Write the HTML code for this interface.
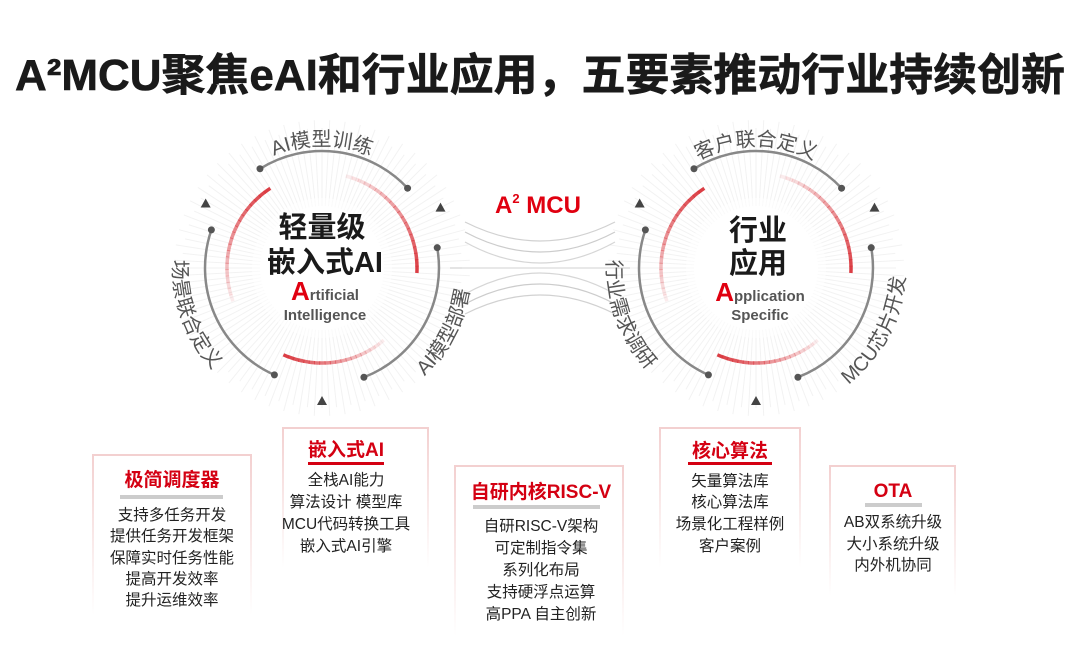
<!DOCTYPE html>
<html><head><meta charset="utf-8">
<style>
html,body{margin:0;padding:0;background:#fff;}
svg{display:block;}
text{font-family:"Liberation Sans","Noto Sans CJK SC",sans-serif;}
</style></head>
<body>
<svg id="s" width="1080" height="667" viewBox="0 0 1080 667" xmlns="http://www.w3.org/2000/svg">
<defs>
<linearGradient id="boxg" x1="0" y1="0" x2="0" y2="1">
<stop offset="0" stop-color="#f3d0d0"/><stop offset="1" stop-color="#fff"/>
</linearGradient>
</defs>
<g id="ticks"></g>
<g id="mid" fill="none" stroke="#999" stroke-width="1.2"></g>
<g id="arcs"></g>

<text x="540" y="90" text-anchor="middle" font-size="44" font-weight="bold" fill="#1a1a1a" stroke="#1a1a1a" stroke-width="0.6" textLength="1050" lengthAdjust="spacingAndGlyphs">A²MCU聚焦eAI和行业应用，五要素推动行业持续创新</text>

<text x="538" y="213" text-anchor="middle" font-size="24" font-weight="bold" fill="#e00010">A<tspan font-size="13" dy="-10">2</tspan><tspan dy="10"> MCU</tspan></text>

<text x="322" y="237" text-anchor="middle" font-size="29" font-weight="bold" fill="#1a1a1a">轻量级</text>
<text x="325" y="272" text-anchor="middle" font-size="29" font-weight="bold" fill="#1a1a1a">嵌入式AI</text>
<text x="325" y="300" text-anchor="middle" font-size="15" font-weight="bold" fill="#555"><tspan font-size="26" fill="#e00010">A</tspan>rtificial</text>
<text x="325" y="320" text-anchor="middle" font-size="15" font-weight="bold" fill="#555">Intelligence</text>
<text x="758" y="240" text-anchor="middle" font-size="29" font-weight="bold" fill="#1a1a1a">行业</text>
<text x="758" y="273" text-anchor="middle" font-size="29" font-weight="bold" fill="#1a1a1a">应用</text>
<text x="760" y="301" text-anchor="middle" font-size="15" font-weight="bold" fill="#555"><tspan font-size="26" fill="#e00010">A</tspan>pplication</text>
<text x="760" y="320" text-anchor="middle" font-size="15" font-weight="bold" fill="#555">Specific</text>

<g id="labels" font-size="20" fill="#555"></g>

<g font-size="15.5" fill="#222" text-anchor="middle">
<rect x="93" y="455" width="158" height="160" fill="none" stroke="url(#boxg)" stroke-width="2"/>
<text x="172" y="486" font-size="19" font-weight="bold" fill="#d40012">极简调度器</text>
<rect x="120" y="495" width="103" height="4" fill="#ccc"/>
<text x="172" y="520">支持多任务开发</text>
<text x="172" y="541">提供任务开发框架</text>
<text x="172" y="563">保障实时任务性能</text>
<text x="172" y="584">提高开发效率</text>
<text x="172" y="605">提升运维效率</text>

<rect x="283" y="428" width="145" height="140" fill="none" stroke="url(#boxg)" stroke-width="2"/>
<text x="346" y="456" font-size="19" font-weight="bold" fill="#d40012">嵌入式AI</text>
<rect x="308" y="462" width="76" height="3" fill="#d40012"/>
<text x="346" y="485">全栈AI能力</text>
<text x="346" y="507">算法设计  模型库</text>
<text x="346" y="529">MCU代码转换工具</text>
<text x="346" y="551">嵌入式AI引擎</text>

<rect x="455" y="466" width="168" height="170" fill="none" stroke="url(#boxg)" stroke-width="2"/>
<text x="541" y="498" font-size="19" font-weight="bold" fill="#d40012">自研内核RISC-V</text>
<rect x="473" y="505" width="127" height="4" fill="#ccc"/>
<text x="541" y="531">自研RISC-V架构</text>
<text x="541" y="553">可定制指令集</text>
<text x="541" y="575">系列化布局</text>
<text x="541" y="597">支持硬浮点运算</text>
<text x="541" y="619">高PPA  自主创新</text>

<rect x="660" y="428" width="140" height="140" fill="none" stroke="url(#boxg)" stroke-width="2"/>
<text x="730" y="457" font-size="19" font-weight="bold" fill="#d40012">核心算法</text>
<rect x="688" y="462" width="84" height="3" fill="#d40012"/>
<text x="730" y="486">矢量算法库</text>
<text x="730" y="507">核心算法库</text>
<text x="730" y="529">场景化工程样例</text>
<text x="730" y="551">客户案例</text>

<rect x="830" y="466" width="125" height="130" fill="none" stroke="url(#boxg)" stroke-width="2"/>
<text x="893" y="497" font-size="19" font-weight="bold" fill="#d40012">OTA</text>
<rect x="865" y="503" width="57" height="4" fill="#ccc"/>
<text x="893" y="527">AB双系统升级</text>
<text x="893" y="549">大小系统升级</text>
<text x="893" y="570">内外机协同</text>
</g>
</svg>
<script>
var NS="http://www.w3.org/2000/svg";
function el(t,a,p){var e=document.createElementNS(NS,t);for(var k in a)e.setAttribute(k,a[k]);(p||document.getElementById('s')).appendChild(e);return e;}
var R=Math.PI/180;
var C=[[322,268],[756,268]];
var T=document.getElementById('ticks');
C.forEach(function(c){
 for(var i=0;i<120;i++){var a=i*3*R;
  var r1=62,r2=140+(i%2)*8;
  el('line',{x1:c[0]+r1*Math.cos(a),y1:c[1]+r1*Math.sin(a),x2:c[0]+r2*Math.cos(a),y2:c[1]+r2*Math.sin(a),stroke:'#000','stroke-opacity':0.05,'stroke-width':1},T);
 }
 el('circle',{cx:c[0],cy:c[1],r:70,fill:'#fff','fill-opacity':0.6},T);
});
function P(c,r,a){return [c[0]+r*Math.cos(a*R),c[1]+r*Math.sin(a*R)];}
function arc(c,r,a1,a2){var p=P(c,r,a1),q=P(c,r,a2);var sw=a2>a1?1:0;var large=Math.abs(a2-a1)>180?1:0;
 return 'M'+p[0].toFixed(1)+' '+p[1].toFixed(1)+' A'+r+' '+r+' 0 '+large+' '+sw+' '+q[0].toFixed(1)+' '+q[1].toFixed(1);}
var A=document.getElementById('arcs');
C.forEach(function(c){
 [[-122,-43],[-10,69],[114,199]].forEach(function(s){
  el('path',{d:arc(c,117,s[0],s[1]),fill:'none',stroke:'#888','stroke-width':2.5},A);
  [s[0],s[1]].forEach(function(a){var p=P(c,117,a);el('circle',{cx:p[0],cy:p[1],r:3.5,fill:'#555'},A);});
 });
 [-151,-27,90].forEach(function(a){var p=P(c,133,a);
  el('path',{d:'M'+(p[0]-5)+' '+(p[1]+4)+' L'+(p[0]+5)+' '+(p[1]+4)+' L'+p[0]+' '+(p[1]-5)+'Z',fill:'#444'},A);});
 function fade(a1,a2){var n=20;for(var i=0;i<n;i++){var b1=a1+(a2-a1)*i/n,b2=a1+(a2-a1)*(i+1)/n;
   el('path',{d:arc(c,95,b1,b2+(a2>a1?0.5:-0.5)),fill:'none',stroke:'#d9343b','stroke-opacity':(1-i/n)*0.9+0.05,'stroke-width':3.5},A);}}
 fade(-123,-200); fade(3,-75); fade(114,50);
});
var L=document.getElementById('labels');var id=0;
function lab(c,r,a1,a2,txt){var pid='lp'+(id++);el('path',{id:pid,d:arc(c,r,a1,a2),fill:'none'},L);
 var t=el('text',{'text-anchor':'middle'},L);var tp=el('textPath',{href:'#'+pid,startOffset:'50%'},t);tp.textContent=txt;}
lab(C[0],122,-140,-40,'AI模型训练');
lab(C[0],149,200,120,'场景联合定义');
lab(C[0],149,70,-15,'AI模型部署');
lab(C[1],122,-140,-40,'客户联合定义');
lab(C[1],149,200,120,'行业需求调研');
lab(C[1],149,70,-15,'MCU芯片开发');
var M=document.getElementById('mid');
[[222,240,0.45],[232,252,0.5],[242,264,0.4]].forEach(function(v){
 el('path',{d:'M465 '+v[0]+' Q540 '+(v[1]+20)+' 615 '+v[0],'stroke-opacity':v[2]},M);
 el('path',{d:'M465 '+(536-v[0])+' Q540 '+(536-v[1]-20)+' 615 '+(536-v[0]),'stroke-opacity':v[2]},M);
});
el('path',{d:'M450 268 L630 268','stroke-opacity':0.35},M);
</script>
</body></html>
